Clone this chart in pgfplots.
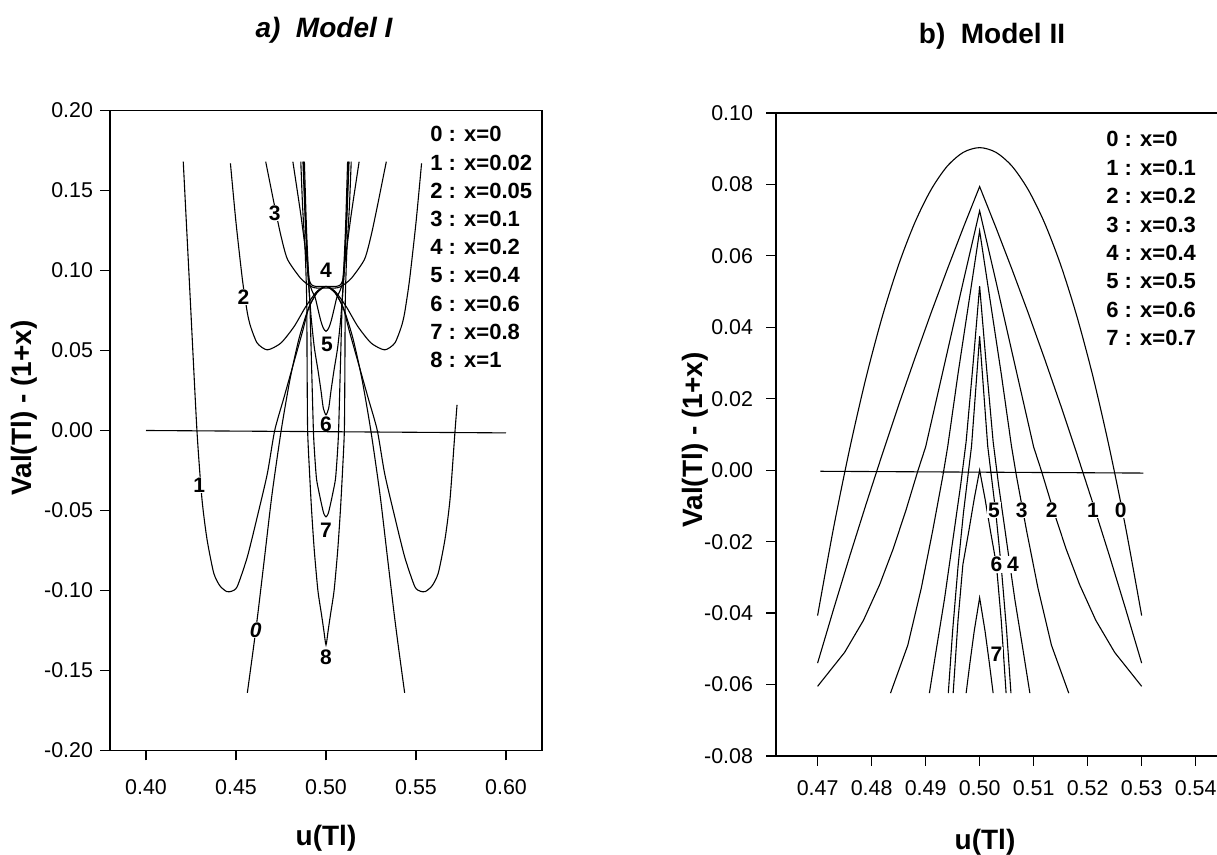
\documentclass[border=0pt]{standalone}
\usepackage{fontspec}
\setmainfont{Liberation Sans}
\usepackage{pgfplots}
\pgfplotsset{compat=1.18}
\newcommand{\tkf}{\fontsize{10.7}{12}\selectfont}
\newcommand{\lgf}{\bfseries\fontsize{11}{13}\selectfont}
\newcommand{\lbf}{\bfseries\fontsize{10.5}{12}\selectfont}
\newcommand{\bigf}{\bfseries\fontsize{14}{16}\selectfont}
\tikzset{clab/.style={fill=white, inner sep=0.4pt, font=\lbf}}
\pgfplotsset{
  panel/.style={
    scale only axis, anchor=south west,
    tick align=outside, major tick length=5pt, tick pos=left,
    axis line style={line width=0.7pt},
    every tick/.style={black, line width=0.6pt},
    tick label style={font=\tkf},
    /pgf/number format/assume math mode=true,
    xticklabel style={/pgf/number format/.cd, fixed, fixed zerofill, precision=2},
    yticklabel style={/pgf/number format/.cd, fixed, fixed zerofill, precision=2},
    cycle list={{black,solid}},
    every axis plot post/.append style={black, solid, line width=0.55pt, mark=none},
  },
}
\begin{document}
\begin{tikzpicture}
% ---------------- a) Model I ----------------
\begin{axis}[panel,
  at={(55pt,52.25pt)}, width=216pt, height=320pt,
  xmin=0.38, xmax=0.62, ymin=-0.2, ymax=0.2,
  xtick={0.40,0.45,0.50,0.55,0.60},
  ytick={-0.20,-0.15,-0.10,-0.05,0,0.05,0.10,0.15,0.20},
  xticklabel shift=6pt,
]
\addplot coordinates {(0.40,0.0) (0.60,-0.0015)};
% curve 0
\addplot+[smooth, tension=0.4] coordinates {(0.4563,-0.164) (0.4598,-0.135) (0.4622,-0.114) (0.466,-0.078) (0.470,-0.040) (0.4751,0) (0.480,0.032) (0.485,0.0574) (0.490,0.0755) (0.495,0.0864) (0.500,0.09) (0.505,0.0864) (0.510,0.0755) (0.515,0.0574) (0.520,0.032) (0.5249,0) (0.530,-0.040) (0.534,-0.078) (0.5378,-0.114) (0.5402,-0.135) (0.5437,-0.164)};
% curve 1
\addplot+[smooth, tension=0.4] coordinates {(0.4207,0.168) (0.4245,0.084) (0.4283,0.0) (0.4311,-0.043) (0.4339,-0.068) (0.4376,-0.089) (0.4410,-0.097) (0.4447,-0.1006) (0.4475,-0.1005) (0.4507,-0.0975) (0.4563,-0.079) (0.4618,-0.054) (0.4674,-0.027) (0.4715,0.0) (0.4765,0.020) (0.482,0.042) (0.487,0.062) (0.4905,0.077) (0.495,0.086) (0.500,0.09) (0.505,0.086) (0.5095,0.077) (0.513,0.062) (0.518,0.042) (0.5235,0.020) (0.5285,0.0) (0.5326,-0.027) (0.5382,-0.054) (0.5437,-0.079) (0.5493,-0.0975) (0.5525,-0.1005) (0.5553,-0.1006) (0.5590,-0.097) (0.5624,-0.089) (0.5661,-0.068) (0.5689,-0.043) (0.5717,0.0) (0.5728,0.016)};
% curve 2
\addplot+[smooth, tension=0.4] coordinates {(0.4469,0.167) (0.4500,0.130) (0.4536,0.094) (0.4563,0.0736) (0.4581,0.065) (0.4618,0.0546) (0.4674,0.0504) (0.4749,0.0546) (0.4823,0.065) (0.4888,0.0775) (0.4950,0.087) (0.5,0.09) (0.5050,0.087) (0.5112,0.0775) (0.5177,0.065) (0.5251,0.0546) (0.5326,0.0504) (0.5382,0.0546) (0.5419,0.065) (0.5437,0.0736) (0.5464,0.094) (0.5500,0.130) (0.5531,0.167)};
% curve 3
\addplot+[smooth, tension=0.4] coordinates {(0.4665,0.168) (0.4715,0.140) (0.4749,0.122) (0.4786,0.107) (0.4860,0.095) (0.4916,0.090) (0.4950,0.089) (0.5,0.089) (0.5050,0.089) (0.5084,0.090) (0.5140,0.095) (0.5214,0.107) (0.5251,0.122) (0.5285,0.140) (0.5335,0.168)};
% curve 4
\addplot+[smooth, tension=0.3] coordinates {(0.4816,0.168) (0.4860,0.135) (0.4898,0.1025) (0.4907,0.094) (0.4920,0.091) (0.4944,0.09) (0.5,0.09) (0.5056,0.09) (0.5080,0.091) (0.5093,0.094) (0.5102,0.1025) (0.5140,0.135) (0.5184,0.168)};
% curve 5
\addplot+[smooth, tension=0.4] coordinates {(0.4880,0.168) (0.4892,0.125) (0.4905,0.095) (0.4920,0.088) (0.4940,0.083) (0.4955,0.076) (0.4970,0.069) (0.4985,0.064) (0.5,0.062) (0.5015,0.064) (0.5030,0.069) (0.5045,0.076) (0.5060,0.083) (0.5080,0.088) (0.5095,0.095) (0.5108,0.125) (0.5120,0.168)};
% curve 6
\addplot+[smooth, tension=0.4] coordinates {(0.4872,0.168) (0.4885,0.13) (0.4898,0.10) (0.4908,0.085) (0.4918,0.070) (0.4935,0.052) (0.4955,0.038) (0.4972,0.025) (0.4985,0.014) (0.5,0.0098) (0.5015,0.014) (0.5028,0.025) (0.5045,0.038) (0.5065,0.052) (0.5082,0.070) (0.5092,0.085) (0.5102,0.10) (0.5115,0.13) (0.5128,0.168)};
% curve 7
\addplot+[smooth, tension=0.4] coordinates {(0.4875,0.168) (0.4885,0.135) (0.4900,0.10) (0.4910,0.08) (0.4920,0.04) (0.4930,0.0) (0.4937,-0.015) (0.4947,-0.030) (0.4960,-0.038) (0.4975,-0.046) (0.4988,-0.052) (0.5,-0.054) (0.5012,-0.052) (0.5025,-0.046) (0.5040,-0.038) (0.5053,-0.030) (0.5063,-0.015) (0.5070,0.0) (0.5080,0.04) (0.5090,0.08) (0.5100,0.10) (0.5115,0.135) (0.5125,0.168)};
% curve 8
\addplot+[smooth, tension=0.4] coordinates {(0.4860,0.168) (0.4870,0.140) (0.4885,0.11) (0.4893,0.08) (0.4895,0.04) (0.4898,0.0) (0.4908,-0.025) (0.4920,-0.05) (0.4935,-0.075) (0.4955,-0.100) (0.4975,-0.115) (0.4988,-0.125) (0.5,-0.134) (0.5012,-0.125) (0.5025,-0.115) (0.5045,-0.100) (0.5065,-0.075) (0.5080,-0.05) (0.5092,-0.025) (0.5102,0.0) (0.5105,0.04) (0.5107,0.08) (0.5115,0.11) (0.5130,0.140) (0.5140,0.168)};
\node[clab] at (axis cs:0.4715,0.136) {3};
\node[clab] at (axis cs:0.4542,0.0836) {2};
\node[clab] at (axis cs:0.5,0.100) {4};
\node[clab] at (axis cs:0.5006,0.0536) {5};
\node[font=\lbf, inner sep=0pt] at (axis cs:0.5,0.0042) {6};
\node[clab] at (axis cs:0.5,-0.0623) {7};
\node[clab] at (axis cs:0.5,-0.1417) {8};
\node[clab] at (axis cs:0.4296,-0.034) {1};
\node[clab, font=\bfseries\itshape\fontsize{10.5}{12}\selectfont] at (axis cs:0.4609,-0.1248) {0};
\end{axis}
% legend a
\foreach \t [count=\i from 0] in {0 : x=0, 1 : x=0.02, 2 : x=0.05, 3 : x=0.1, 4 : x=0.2, 5 : x=0.4, 6 : x=0.6, 7 : x=0.8, 8 : x=1}
  \node[anchor=west, inner sep=0pt, font=\lgf] at (215pt,{360.35pt-14.1pt*\i}) {\t};
% ---------------- b) Model II ----------------
\begin{axis}[panel,
  at={(388pt,49.5pt)}, width=222pt, height=321.5pt,
  xmin=0.4623, xmax=0.5445, ymin=-0.08, ymax=0.10,
  xtick={0.47,0.48,0.49,0.50,0.51,0.52,0.53,0.54},
  ytick={-0.08,-0.06,-0.04,-0.02,0,0.02,0.04,0.06,0.08,0.10},
  xticklabel shift=4pt, yticklabel shift=3pt,
]
\addplot coordinates {(0.4705,-0.0003) (0.5303,-0.0008)};
% curve 0
\addplot+[smooth, tension=0.5] coordinates {(0.470,-0.0407) (0.473,-0.0158) (0.476,0.0064) (0.479,0.0261) (0.482,0.0431) (0.485,0.0575) (0.488,0.0693) (0.491,0.0785) (0.494,0.0851) (0.497,0.0890) (0.500,0.0903) (0.503,0.0890) (0.506,0.0851) (0.509,0.0785) (0.512,0.0693) (0.515,0.0575) (0.518,0.0431) (0.521,0.0261) (0.524,0.0064) (0.527,-0.0158) (0.530,-0.0407)};
% curve 1
\addplot coordinates {(0.470,-0.0540) (0.473,-0.0387) (0.476,-0.0238) (0.479,-0.0094) (0.482,0.0046) (0.485,0.0182) (0.488,0.0313) (0.491,0.0440) (0.494,0.0562) (0.497,0.0680) (0.500,0.0794) (0.503,0.0680) (0.506,0.0562) (0.509,0.0440) (0.512,0.0313) (0.515,0.0182) (0.518,0.0046) (0.521,-0.0094) (0.524,-0.0238) (0.527,-0.0387) (0.530,-0.0540)};
% curve 2
\addplot coordinates {(0.470,-0.0605) (0.475,-0.051) (0.4785,-0.042) (0.4815,-0.032) (0.484,-0.022) (0.4864,-0.011) (0.4886,0.0) (0.490,0.0065) (0.494,0.033) (0.497,0.053) (0.5,0.0726) (0.503,0.053) (0.506,0.033) (0.510,0.0065) (0.5114,0.0) (0.5136,-0.011) (0.516,-0.022) (0.5185,-0.032) (0.5215,-0.042) (0.525,-0.051) (0.530,-0.0605)};
% curve 3
\addplot coordinates {(0.4835,-0.0624) (0.4867,-0.049) (0.4892,-0.033) (0.4913,-0.017) (0.4932,-0.0015) (0.4941,0.0067) (0.496,0.027) (0.498,0.047) (0.5,0.067) (0.502,0.047) (0.504,0.027) (0.5059,0.0067) (0.5068,-0.0015) (0.5087,-0.017) (0.5108,-0.033) (0.5133,-0.049) (0.5165,-0.0624)};
% curve 4
\addplot coordinates {(0.4907,-0.0624) (0.4920,-0.050) (0.4935,-0.036) (0.4950,-0.020) (0.4965,-0.004) (0.4975,0.008) (0.4988,0.030) (0.5,0.0515) (0.5012,0.030) (0.5025,0.008) (0.5035,-0.004) (0.5050,-0.020) (0.5065,-0.036) (0.5080,-0.050) (0.5093,-0.0624)};
% curve 5
\addplot coordinates {(0.4942,-0.0624) (0.4950,-0.045) (0.4960,-0.027) (0.4970,-0.012) (0.4978,-0.002) (0.4985,0.0067) (0.4992,0.021) (0.5,0.0375) (0.5008,0.021) (0.5015,0.0067) (0.5022,-0.002) (0.5030,-0.012) (0.5040,-0.027) (0.5050,-0.045) (0.5058,-0.0624)};
% curve 6
\addplot coordinates {(0.4951,-0.0624) (0.4960,-0.042) (0.4969,-0.0264) (0.4980,-0.017) (0.4990,-0.008) (0.5,0.0) (0.5010,-0.008) (0.5020,-0.017) (0.5031,-0.0264) (0.5040,-0.042) (0.5049,-0.0624)};
% curve 7
\addplot coordinates {(0.4975,-0.0624) (0.4982,-0.054) (0.4990,-0.045) (0.5,-0.0357) (0.5010,-0.045) (0.5018,-0.054) (0.5025,-0.0624)};
\node[clab] at (axis cs:0.50265,-0.0112) {5};
\node[clab] at (axis cs:0.50778,-0.0112) {3};
\node[clab] at (axis cs:0.51333,-0.0112) {2};
\node[clab] at (axis cs:0.52098,-0.0112) {1};
\node[clab] at (axis cs:0.52611,-0.0112) {0};
\node[clab] at (axis cs:0.50311,-0.0264) {6};
\node[clab] at (axis cs:0.50617,-0.0264) {4};
\node[clab] at (axis cs:0.5031,-0.0516) {7};
\end{axis}
% legend b
\foreach \t [count=\i from 0] in {0 : x=0, 1 : x=0.1, 2 : x=0.2, 3 : x=0.3, 4 : x=0.4, 5 : x=0.5, 6 : x=0.6, 7 : x=0.7}
  \node[anchor=west, inner sep=0pt, font=\lgf] at (553pt,{357.85pt-14.2pt*\i}) {\t};
% titles and axis labels
\node[font=\bfseries\itshape\fontsize{14}{16}\selectfont] at (162pt,412.5pt) {a)\ \ Model I};
\node[font=\bigf] at (496pt,409.5pt) {b)\ \ Model II};
\node[font=\bigf, rotate=90] at (12pt,223.5pt) {Val(Tl) - (1+x)};
\node[font=\bigf, rotate=90] at (347.5pt,207.5pt) {Val(Tl) - (1+x)};
\node[font=\bigf] at (163pt,8.5pt) {u(Tl)};
\node[font=\bigf] at (492.5pt,6.5pt) {u(Tl)};
\pgfresetboundingbox
\path[use as bounding box] (0,0) rectangle (608.5pt,427.5pt);
\end{tikzpicture}
\end{document}
